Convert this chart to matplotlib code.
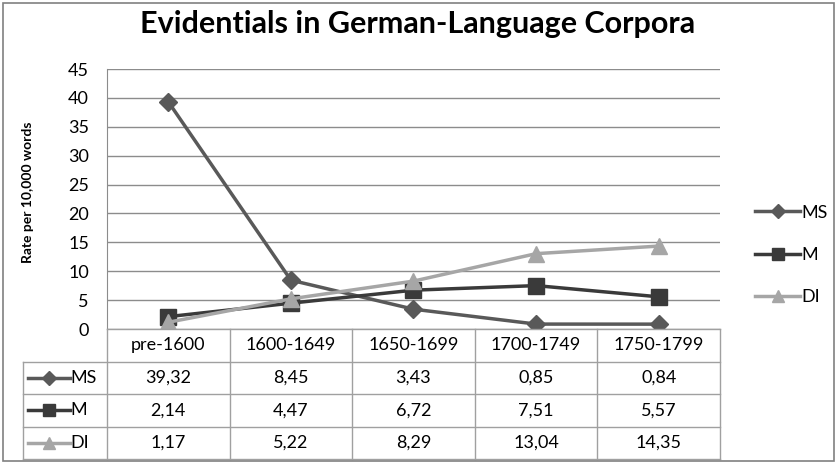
import matplotlib
matplotlib.use("Agg")
import matplotlib.pyplot as plt
from matplotlib.lines import Line2D
from matplotlib.patches import Rectangle

plt.rcParams['font.family'] = ['Lato', 'DejaVu Sans']

periods = ["pre-1600", "1600-1649", "1650-1699", "1700-1749", "1750-1799"]
ms = [39.32, 8.45, 3.43, 0.85, 0.84]
m = [2.14, 4.47, 6.72, 7.51, 5.57]
di = [1.17, 5.22, 8.29, 13.04, 14.35]

series = [
    ("MS", ms, "#595959", "D", 9),
    ("M", m, "#3a3a3a", "s", 11),
    ("DI", di, "#a6a6a6", "^", 11),
]

W, H = 837, 463
fig = plt.figure(figsize=(W / 100, H / 100), dpi=100)

# outer frame
fig.patches.append(Rectangle((3 / W, 2 / H), 831 / W, 458 / H, transform=fig.transFigure,
                             fill=False, edgecolor="#808080", lw=1.2))

fig.text(418 / W, 1 - 24 / H, "Evidentials in German-Language Corpora",
         ha="center", va="center", fontsize=22, fontweight="bold")

ax = fig.add_axes([107 / W, 1 - 329 / H, 613 / W, 260 / H])
x = range(len(periods))
for name, vals, col, mk, ms_ in series:
    ax.plot(x, vals, color=col, lw=2.5, marker=mk, markersize=ms_, label=name, zorder=3)

ax.set_xlim(-0.5, 4.5)
ax.set_ylim(0, 45)
ax.set_yticks(range(0, 46, 5))
ax.set_xticks([])
ax.yaxis.grid(True, color="#8c8c8c", lw=1)
ax.set_axisbelow(True)
for s in ["top", "right", "bottom"]:
    ax.spines[s].set_visible(False)
ax.spines["left"].set_color("#8c8c8c")
ax.tick_params(axis="y", length=0, pad=13, labelsize=13)

fig.text(28 / W, 1 - 192 / H, "Rate per 10,000 words", rotation=90,
         ha="center", va="center", fontsize=10, fontweight="bold")

# data table drawn below the axis
lab_w = 84 / 122.6
tax = fig.add_axes([23 / W, 1 - 459 / H, 697 / W, 130 / H])
tax.set_xlim(-0.5 - lab_w, 4.5)
tax.set_ylim(4, 0)
tax.axis("off")
gc = "#a0a0a0"
for r in range(5):
    x0 = -0.5 if r == 0 else -0.5 - lab_w
    tax.plot([x0, 4.5], [r, r], color=gc, lw=1, clip_on=False)
for c in range(6):
    tax.plot([c - 0.5, c - 0.5], [0, 4], color=gc, lw=1, clip_on=False)
tax.plot([-0.5 - lab_w] * 2, [1, 4], color=gc, lw=1, clip_on=False)

for i, p in enumerate(periods):
    tax.text(i, 0.5, p, ha="center", va="center", fontsize=13)
for r, (name, vals, col, mk, ms_) in enumerate(series, start=1):
    for i, v in enumerate(vals):
        tax.text(i, r + 0.5, f"{v:.2f}".replace(".", ","), ha="center", va="center", fontsize=13)
    lx0 = -0.5 - lab_w + 0.04
    lx1 = lx0 + 0.34
    tax.add_line(Line2D([lx0, lx1], [r + 0.5, r + 0.5], color=col, lw=2.5, clip_on=False))
    tax.add_line(Line2D([(lx0 + lx1) / 2], [r + 0.5], color=col, marker=mk,
                        markersize=ms_ * 0.75, clip_on=False))
    tax.text(lx1 + 0.01, r + 0.5, name, ha="left", va="center", fontsize=13)

fig.legend(loc="center left", bbox_to_anchor=(748 / W, 1 - 255 / H), frameon=False,
           fontsize=13, handlelength=2.5, labelspacing=1.45, handletextpad=0.05,
           borderaxespad=0, markerscale=0.8)

fig.savefig("out.png", dpi=100)
